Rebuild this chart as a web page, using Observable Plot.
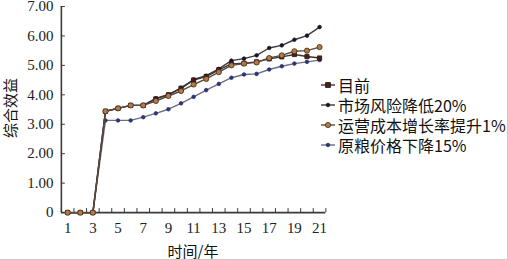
<!DOCTYPE html>
<html><head><meta charset="utf-8">
<script src="https://cdn.jsdelivr.net/npm/d3@7"></script>
<script src="https://cdn.jsdelivr.net/npm/@observablehq/plot@0.6"></script>
<style>
html,body{margin:0;padding:0;background:#fff;}
#wrap{position:relative;width:508px;height:260px;overflow:hidden;box-sizing:border-box;border-right:1px solid #c8c8c8;border-bottom:1px solid #c8c8c8;}
#legend{position:absolute;left:318px;top:75px;font-family:"Noto Sans CJK SC",sans-serif;font-size:16px;color:#111;}
#legend .row{display:flex;align-items:center;height:20px;line-height:20px;white-space:nowrap;}
#legend svg{width:20px;height:10px;}
.atitle{position:absolute;font-family:"Noto Sans CJK SC",sans-serif;font-size:15px;line-height:15px;color:#111;white-space:nowrap;}
#xtitle{left:193px;top:250px;transform:translate(-50%,-50%);}
#ytitle{left:9px;top:108px;transform:translate(-50%,-50%) rotate(-90deg);}
</style>
</head><body>
<div id="wrap"><div id="legend"></div><div id="xtitle" class="atitle"></div><div id="ytitle" class="atitle"></div></div>
<script>
const years = [1,2,3,4,5,6,7,8,9,10,11,12,13,14,15,16,17,18,19,20,21];
const xLabelYears = [1,3,5,7,9,11,13,15,17,19,21];
const xTickEdges = [0.5,1.5,2.5,3.5,4.5,5.5,6.5,7.5,8.5,9.5,10.5,11.5,12.5,13.5,14.5,15.5,16.5,17.5,18.5,19.5,20.5,21.5];
const yTicks = [0,1,2,3,4,5,6,7];
const xTitle = "时间/年";
const yTitle = "综合效益";
const seriesNames = ["目前","市场风险降低20%","运营成本增长率提升1%","原粮价格下降15%"];
const current     = [0,0,0,3.44,3.54,3.64,3.64,3.86,4.00,4.22,4.50,4.62,4.85,5.05,5.07,5.12,5.22,5.29,5.37,5.30,5.25];
const marketRisk  = [0,0,0,3.44,3.54,3.64,3.64,3.88,4.01,4.24,4.52,4.65,4.88,5.16,5.23,5.34,5.59,5.68,5.87,6.01,6.30];
const opCost      = [0,0,0,3.44,3.54,3.64,3.64,3.79,3.96,4.13,4.35,4.54,4.77,5.00,5.06,5.10,5.25,5.34,5.48,5.50,5.62];
const grainPrice  = [0,0,0,3.13,3.13,3.13,3.24,3.37,3.51,3.71,3.93,4.16,4.37,4.58,4.69,4.71,4.86,4.97,5.06,5.12,5.18];

const styles = {
  "目前": {line:"#3d3434", symbol:"square", r:2.4, fill:"#4a1e14", stroke:"#2a1410"},
  "市场风险降低20%": {line:"#3a3a3a", symbol:"circle", r:1.8, fill:"#15152e", stroke:"#15152e"},
  "运营成本增长率提升1%": {line:"#5b4a3c", symbol:"circle", r:2.6, fill:"#b57a45", stroke:"#3c2a1c"},
  "原粮价格下降15%": {line:"#6e6e80", symbol:"circle", r:1.8, fill:"#2b3575", stroke:"#2b3575"}
};
const valueLists = [current, marketRisk, opCost, grainPrice];
const rows = [];
seriesNames.forEach((name, k) => valueLists[k].forEach((v, i) => rows.push({name, year: years[i], value: v})));
const drawOrder = ["原粮价格下降15%","市场风险降低20%","目前","运营成本增长率提升1%"];

const marks = [];
for (const name of drawOrder) {
  const s = styles[name];
  const d = rows.filter(r => r.name === name);
  marks.push(Plot.line(d, {x:"year", y:"value", stroke:s.line, strokeWidth:1.4}));
  marks.push(Plot.dot(d, {x:"year", y:"value", symbol:s.symbol, r:s.r, fill:s.fill, stroke:s.stroke, strokeWidth:0.8}));
}

const chart = Plot.plot({
  width: 508, height: 260,
  marginLeft: 61, marginRight: 182, marginTop: 6, marginBottom: 47.5,
  x: {domain: [0.5, 21.5]},
  y: {domain: [0, 7]},
  style: {fontFamily: "Liberation Serif", fontSize: "15px", color: "#222", background: "transparent"},
  marks: [
    Plot.axisY({ticks: yTicks, tickSize: 0, tickPadding: 8, tickFormat: d => d === 0 ? "0" : d.toFixed(2), label: null, fontSize: 15}),
    Plot.axisY({ticks: yTicks.slice(1), tickSize: 4, dx: 4, tickFormat: () => "", label: null, stroke: "#3a3a3a"}),
    Plot.axisX({ticks: xLabelYears, tickSize: 0, tickPadding: 10, tickFormat: d => String(d), label: null, fontSize: 15}),
    Plot.axisX({ticks: xTickEdges, tickSize: 4, dy: -4, tickFormat: () => "", label: null, stroke: "#3a3a3a"}),
    Plot.ruleX([0.5], {y1: 0, y2: 7, stroke: "#3a3a3a", strokeWidth: 1.6}),
    Plot.ruleY([0], {x1: 0.5, x2: 21.5, stroke: "#3a3a3a", strokeWidth: 1.6}),
    ...marks
  ]
});
document.getElementById("wrap").prepend(chart);
document.getElementById("xtitle").textContent = xTitle;
document.getElementById("ytitle").textContent = yTitle;

const legend = document.getElementById("legend");
for (const name of seriesNames) {
  const s = styles[name];
  const row = document.createElement("div");
  row.className = "row";
  const sym = s.symbol === "square"
    ? `<rect x="7.6" y="2.6" width="4.8" height="4.8" fill="${s.fill}" stroke="${s.stroke}" stroke-width="0.8"/>`
    : `<circle cx="10" cy="5" r="${s.r}" fill="${s.fill}" stroke="${s.stroke}" stroke-width="0.8"/>`;
  row.innerHTML = `<svg viewBox="0 0 20 10"><line x1="3" x2="17" y1="5" y2="5" stroke="${s.line}" stroke-width="1.4"/>${sym}</svg><span>${name}</span>`;
  legend.appendChild(row);
}
</script>
</body></html>
